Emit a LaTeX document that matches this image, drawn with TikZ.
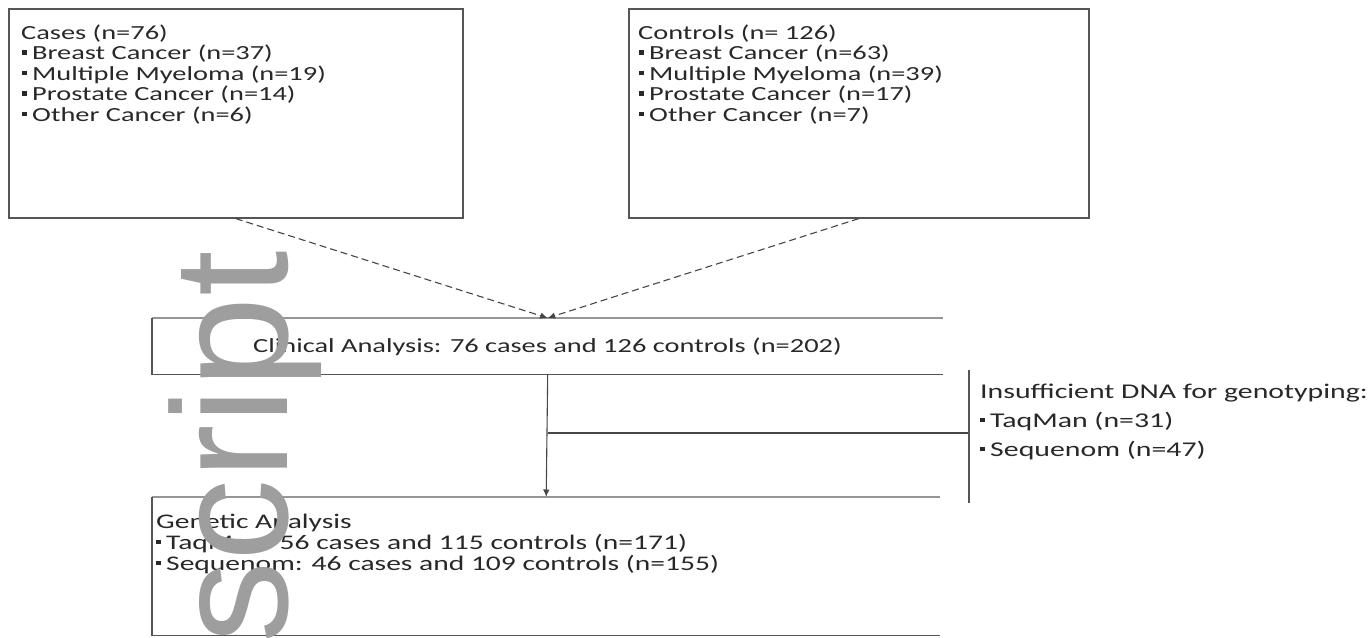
\documentclass[tikz,border=0pt]{standalone}
\usepackage{fontspec}
\setmainfont{Carlito}[FakeStretch=1.42]
\newfontfamily\wmfont{Liberation Sans}
\usetikzlibrary{arrows.meta}
\definecolor{boxcol}{RGB}{85,85,85}
\definecolor{lightline}{RGB}{150,150,150}
\definecolor{conncol}{RGB}{70,70,70}
\definecolor{txtcol}{RGB}{40,40,40}
\definecolor{wmgray}{RGB}{158,158,158}
\newcommand\sqb{\raisebox{5pt}{\rule{4.5pt}{4.5pt}}\hspace{5.5pt}}
\begin{document}
\begin{tikzpicture}[x=1pt,y=-1pt,
  boxline/.style={draw=boxcol, line width=1.6pt},
  frame/.style={inner sep=0pt, anchor=north west},
  txt/.style={font=\fontsize{20}{20.6}\selectfont, text=txtcol, inner sep=0pt, anchor=base west},
  txtg/.style={font=\fontsize{20.8}{21}\selectfont, text=txtcol, inner sep=0pt, anchor=base west},
  txtb/.style={font=\fontsize{21}{21}\selectfont, text=txtcol, inner sep=0pt, anchor=base west},
  conn/.style={draw=conncol, line width=1.1pt},
  tip/.style={-{Latex[length=7.5pt,width=6.5pt]}}]
\useasboundingbox (0,0) rectangle (1372,637);
% top boxes
\node[frame, boxline, minimum width=454pt, minimum height=209pt] (cases) at (8,8) {};
\node[frame, boxline, minimum width=460pt, minimum height=209pt] (controls) at (628,8) {};
% clinical and genetic boxes (drawn on three sides)
\node[frame, minimum width=791pt, minimum height=56pt] (clinical) at (152,318) {};
\node[frame, minimum width=788pt, minimum height=138pt] (genetic) at (152,497) {};
\draw[draw=lightline, line width=1.4pt] (clinical.north west) -- (clinical.north east);
\draw[boxline] (clinical.north west) -- (clinical.south west) -- (clinical.south east);
\draw[draw=lightline, line width=1.4pt] (genetic.north west) -- (genetic.north east);
\draw[boxline] (genetic.north west) -- (genetic.south west) -- (genetic.south east);
% texts of cases
\node[txt] (ca0) at (21,39) {Cases (n=76)};
\node[txt] (ca1) at (22,59.6) {\sqb Breast Cancer (n=37)};
\node[txt] (ca2) at (22,80.2) {\sqb Multiple Myeloma (n=19)};
\node[txt] (ca3) at (22,100.8) {\sqb Prostate Cancer (n=14)};
\node[txt] (ca4) at (22,121.4) {\sqb Other Cancer (n=6)};
% texts of controls
\node[txt] (co0) at (638,39) {Controls (n= 126)};
\node[txt] (co1) at (639,59.6) {\sqb Breast Cancer (n=63)};
\node[txt] (co2) at (639,80.2) {\sqb Multiple Myeloma (n=39)};
\node[txt] (co3) at (639,100.8) {\sqb Prostate Cancer (n=17)};
\node[txt] (co4) at (639,121.4) {\sqb Other Cancer (n=7)};
% clinical text
\node[txt, anchor=base] (cl0) at (547.5,352) {Clinical Analysis: 76 cases and 126 controls (n=202)};
% genetic texts
\node[txtg] (ge0) at (156,528) {Genetic Analysis};
\node[txtg] (ge1) at (156,549) {\sqb TaqMan: 56 cases and 115 controls (n=171)};
\node[txtg] (ge2) at (156,570) {\sqb Sequenom: 46 cases and 109 controls (n=155)};
% insufficient texts
\node[txtb] (in0) at (980,398) {Insufficient DNA for genotyping:};
\node[txtb] (in1) at (980,427) {\sqb TaqMan (n=31)};
\node[txtb] (in2) at (980,456) {\sqb Sequenom (n=47)};
% connectors
\draw[conn, tip, dash pattern=on 7pt off 4pt] (cases.south) -- (clinical.north);
\draw[conn, tip, dash pattern=on 7pt off 4pt] (controls.south) -- (clinical.north);
\draw[conn, tip] (clinical.south) -- (genetic.north);
\coordinate (junc) at (548,433);
\coordinate (brtop) at (969,370);
\coordinate (brbot) at (969,503);
\draw[conn] (junc) -- (junc -| brtop);
\draw[draw=boxcol, line width=1.4pt] (brtop) -- (brbot);
% watermark
\node[rotate=90, anchor=base east, inner sep=0pt, font=\fontsize{164}{164}\selectfont\wmfont, text=wmgray] (wm) at (287,251) {script};
\end{tikzpicture}
\end{document}
